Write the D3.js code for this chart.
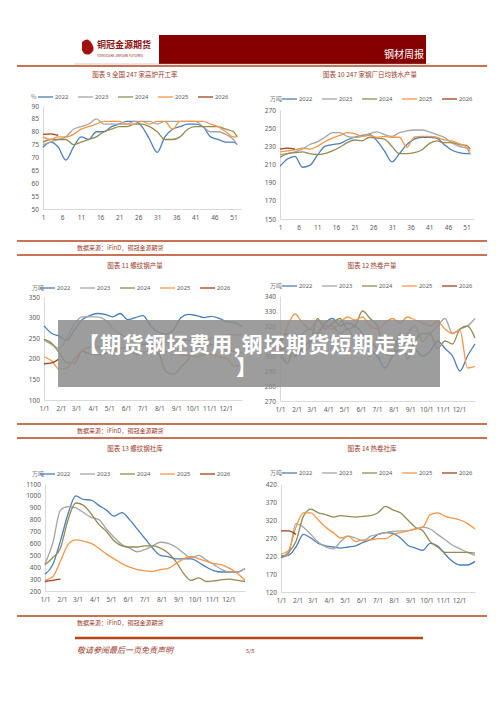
<!DOCTYPE html>
<html><head><meta charset="utf-8">
<script src="https://cdn.jsdelivr.net/npm/d3@7"></script>
<style>
body{margin:0;background:#fff;}
svg{display:block;font-family:"Noto Sans CJK SC","Noto Sans",sans-serif;}
</style></head>
<body>
<svg id="page" width="500" height="707"></svg>
<script>
const years = ["2022", "2023", "2024", "2025", "2026"];
const colors = ["#4a7ebb", "#a5a5a5", "#948a54", "#f79646", "#a0401a"];

// weekly grid for charts 9 and 10, day-of-year grid for 11-14
const weeks = [1,3,5,7,9,11,13,15,17,19,21,23,25,27,29,31,33,35,37,39,41,43,45,47,49,51,52];
const days = d3.range(0, 365, 14).concat([364]);
const weekTicks = [1,6,11,16,21,26,31,36,41,46,51];
const monthLabels = ["1/1","2/1","3/1","4/1","5/1","6/1","7/1","8/1","9/1","10/1","11/1","12/1"];
const monthDays = [0,31,59,90,120,151,181,212,243,273,304,334];

// 图表9 高炉开工率 (%)
const bfRate = [
  [74,76,74,69,74,78,77,80,80,82,83,84,84,82,77,72,78,81,82,83,83,82,78,77,76,76,75],
  [75,76,77,78,81,82,83,85,83,83,83,83,84,84,84,83,84,84,84,84,84,82,80,80,79,77,75],
  [76,77,77,77,75,76,77,78,80,81,82,82,83,83,82,80,77,77,78,81,82,82,82,82,81,80,78],
  [78,77,78,78,79,81,82,83,84,84,84,83,83,84,83,84,84,81,84,84,84,84,83,82,80,78,78],
  [79,79.2,78.6]
];
// 图表10 日均铁水产量
const ironOut = [
  [208,216,219,207,209,220,230,232,233,237,240,242,243,236,225,213,222,232,238,240,240,239,232,226,223,222,222],
  [221,222,224,227,232,235,240,245,245,241,240,241,244,246,243,241,245,247,248,248,246,243,240,234,230,228,221],
  [218,222,223,224,222,221,222,225,229,234,237,236,240,239,238,230,222,222,223,226,233,236,234,234,232,231,227],
  [224,225,226,228,227,230,235,239,242,245,244,241,242,240,241,240,240,229,240,241,241,240,237,236,233,229,225],
  [227,228,227]
];
// 图表11 螺纹钢产量
const rebarOut = [
  [280,262,255,245,270,295,305,310,308,302,310,295,300,305,280,265,260,270,300,308,305,300,303,298,290,288,278],
  [245,235,225,250,285,302,302,302,295,275,260,250,245,240,235,235,240,240,245,245,242,245,250,255,258,258,258],
  [248,238,215,190,190,218,212,210,212,220,225,228,220,235,228,215,170,162,180,200,240,230,235,230,222,218,215],
  [205,195,175,178,200,220,228,228,230,225,226,228,210,215,220,212,218,220,210,207,205,210,212,205,200,182,185],
  [188,190,200]
];
// 图表12 热卷产量
const hrcOut = [
  [310,315,300,305,310,315,322,325,320,322,320,315,305,300,292,300,305,310,305,300,303,310,305,300,290,300,308],
  [300,295,310,315,318,315,320,320,315,318,310,305,310,305,310,312,305,315,320,310,315,320,325,315,318,320,325],
  [305,295,315,302,308,325,318,322,325,318,320,330,325,320,302,300,315,298,310,315,315,305,310,308,318,320,312],
  [305,320,328,322,318,324,320,318,322,326,324,326,320,318,322,325,322,326,324,322,320,323,318,315,317,292,293],
  [304,306,308]
];
// 图表13 螺纹钢社库
const rebarStock = [
  [340,420,620,850,1000,970,965,920,880,830,860,800,720,640,560,500,490,470,470,470,440,400,370,360,360,360,390],
  [430,600,880,910,900,860,820,800,720,650,590,560,530,550,580,610,600,570,520,480,500,460,420,380,360,360,390],
  [420,480,560,800,940,920,850,760,700,620,580,570,570,580,580,560,520,450,350,290,310,280,285,295,300,290,280],
  [290,320,450,590,630,620,600,560,510,470,430,400,380,370,365,380,390,430,470,490,470,450,430,420,390,350,290],
  [280,290,300]
];
// 图表14 热卷社库
const hrcStock = [
  [220,222,245,280,270,255,248,245,242,245,248,258,265,280,285,283,270,250,242,236,255,248,225,205,195,195,205],
  [215,225,310,300,280,258,245,240,260,275,270,262,275,280,285,288,290,290,295,300,295,280,265,250,240,230,222],
  [215,230,260,330,350,340,335,328,332,330,328,330,332,340,358,348,340,320,300,290,260,245,230,230,230,230,228],
  [225,235,300,340,340,320,300,285,270,275,260,265,265,268,268,280,285,290,295,300,335,340,330,325,320,310,295],
  [290,290,280]
];

const svg = d3.select("#page");
const brown = "#b5451b", titleRed = "#9b3a2a";

// header
svg.append("path").attr("d","M82,42 q6,-6 10,2 q4,6 -2,10 q-6,2 -8,-4 z").attr("fill","#a01010");
svg.append("text").attr("x",97).attr("y",48).attr("font-size",9).attr("font-weight","bold")
  .attr("fill","#8a1010").text("铜冠金源期货");
svg.append("text").attr("x",97).attr("y",57).attr("font-size",3.2).attr("fill","#8a1010").text("TONGGUAN JINYUAN FUTURES");
svg.append("rect").attr("x",159).attr("y",35).attr("width",267).attr("height",29).attr("fill","#870000");
svg.append("text").attr("x",424).attr("y",58).attr("text-anchor","end").attr("font-size",10)
  .attr("fill","#fff").text("钢材周报");
svg.append("line").attr("x1",74).attr("x2",430).attr("y1",64).attr("y2",64).attr("stroke","#999").attr("stroke-width",0.5);

function rule(y, x1 = 17, x2 = 487, w = 1.5) {
  svg.append("line").attr("x1",x1).attr("x2",x2).attr("y1",y).attr("y2",y)
    .attr("stroke",brown).attr("stroke-width",w);
}
function source(y) {
  svg.append("text").attr("x",77).attr("y",y).attr("font-size",6).attr("fill",titleRed).text("数据来源：iFinD，铜冠金源期货");
}
rule(66); rule(241); source(250); rule(255);
rule(424); source(433); rule(438);
rule(616); source(625); rule(638, 75, 423, 2.5);
svg.append("text").attr("x",77).attr("y",653).attr("font-size",8).attr("font-style","italic")
  .attr("fill",titleRed).text("敬请参阅最后一页免责声明");
svg.append("text").attr("x",246).attr("y",653).attr("font-size",5.5).attr("fill",titleRed).text("5/8");

function panel(cfg) {
  const g = svg.append("g");
  g.append("text").attr("x",cfg.titleX).attr("y",cfg.titleY).attr("text-anchor","middle")
    .attr("font-size",6.5).attr("fill",titleRed).text(cfg.title);

  const y = d3.scaleLinear().domain(cfg.yDomain).range([cfg.bottom, cfg.top]);
  const x = d3.scaleLinear().domain(cfg.xDomain).range([cfg.left, cfg.right]);

  g.append("g").attr("transform",`translate(${cfg.left},0)`)
    .call(d3.axisLeft(y).tickValues(cfg.yTicks).tickFormat(d3.format("d")).tickSize(0).tickPadding(4))
    .call(a => a.select(".domain").attr("stroke","#d9d9d9"))
    .selectAll("text").attr("font-size",6.5).attr("fill","#595959").attr("font-family","Noto Sans");
  g.append("g").attr("transform",`translate(0,${cfg.bottom})`)
    .call(d3.axisBottom(x).tickValues(cfg.xTicks).tickFormat((d, i) => cfg.xLabels[i]).tickSize(0).tickPadding(6))
    .call(a => a.select(".domain").attr("stroke","#d9d9d9"))
    .selectAll("text").attr("font-size",6.5).attr("fill","#595959").attr("font-family","Noto Sans");

  const line = d3.line().x((d, i) => x(cfg.xs[i])).y(d => y(d)).curve(d3.curveMonotoneX);
  cfg.series.forEach((s, k) => {
    g.append("path").attr("d", line(s)).attr("fill","none")
      .attr("stroke", colors[k]).attr("stroke-width",1.3);
  });

  g.append("text").attr("x",cfg.unitX).attr("y",cfg.legendY + 2).attr("font-size",6)
    .attr("fill","#777").text(cfg.unit);
  years.forEach((yr, k) => {
    const lx = cfg.legendX + k * 40;
    g.append("line").attr("x1",lx).attr("x2",lx + 15).attr("y1",cfg.legendY).attr("y2",cfg.legendY)
      .attr("stroke",colors[k]).attr("stroke-width",1.3);
    g.append("text").attr("x",lx + 17).attr("y",cfg.legendY + 2).attr("font-size",5.8)
      .attr("fill","#595959").attr("font-family","Noto Sans").text(yr);
  });
}

const weekCfg = { xs: weeks, xDomain: [1, 53], xTicks: weekTicks, xLabels: weekTicks.map(String) };
const dayCfg = { xs: days, xDomain: [0, 364], xTicks: monthDays, xLabels: monthLabels };

panel({ ...weekCfg, title: "图表 9 全国 247 家高炉开工率", titleX: 135, titleY: 77,
  series: bfRate, yDomain: [50, 90], yTicks: d3.range(50, 91, 5),
  top: 106, bottom: 209, left: 43, right: 241, legendY: 97, legendX: 38, unit: "%", unitX: 31 });
panel({ ...weekCfg, title: "图表 10  247 家钢厂日均铁水产量", titleX: 370, titleY: 77,
  series: ironOut, yDomain: [150, 270], yTicks: d3.range(150, 271, 20),
  top: 110, bottom: 219, left: 280, right: 474, legendY: 99, legendX: 282, unit: "万吨", unitX: 270 });
panel({ ...dayCfg, title: "图表 11  螺纹钢产量", titleX: 135, titleY: 268,
  series: rebarOut, yDomain: [100, 350], yTicks: d3.range(100, 351, 50),
  top: 297, bottom: 400, left: 44, right: 242, legendY: 288, legendX: 40, unit: "万吨", unitX: 32 });
panel({ ...dayCfg, title: "图表 12  热卷产量", titleX: 372, titleY: 268,
  series: hrcOut, yDomain: [270, 340], yTicks: d3.range(270, 341, 10),
  top: 296, bottom: 401, left: 280, right: 475, legendY: 286, legendX: 282, unit: "万吨", unitX: 270 });
panel({ ...dayCfg, title: "图表 13  螺纹钢社库", titleX: 135, titleY: 451,
  series: rebarStock, yDomain: [200, 1100], yTicks: d3.range(200, 1101, 100),
  top: 484, bottom: 591, left: 45, right: 245, legendY: 474, legendX: 40, unit: "万吨", unitX: 32 });
panel({ ...dayCfg, title: "图表 14  热卷社库", titleX: 372, titleY: 451,
  series: hrcStock, yDomain: [120, 420], yTicks: d3.range(120, 421, 50),
  top: 484, bottom: 592, left: 281, right: 475, legendY: 473, legendX: 282, unit: "万吨", unitX: 270 });

// overlay title
svg.append("rect").attr("x",58).attr("y",320).attr("width",382).attr("height",67)
  .attr("fill","#8c8c8c").attr("opacity",0.85);
svg.append("text").attr("x",78).attr("y",352).attr("font-size",21).attr("font-weight","bold")
  .attr("fill","#fff").attr("textLength",340).text("【期货钢坯费用,钢坯期货短期走势");
svg.append("text").attr("x",236).attr("y",375).attr("font-size",21).attr("font-weight","bold")
  .attr("fill","#fff").text("】");
</script>
</body></html>
